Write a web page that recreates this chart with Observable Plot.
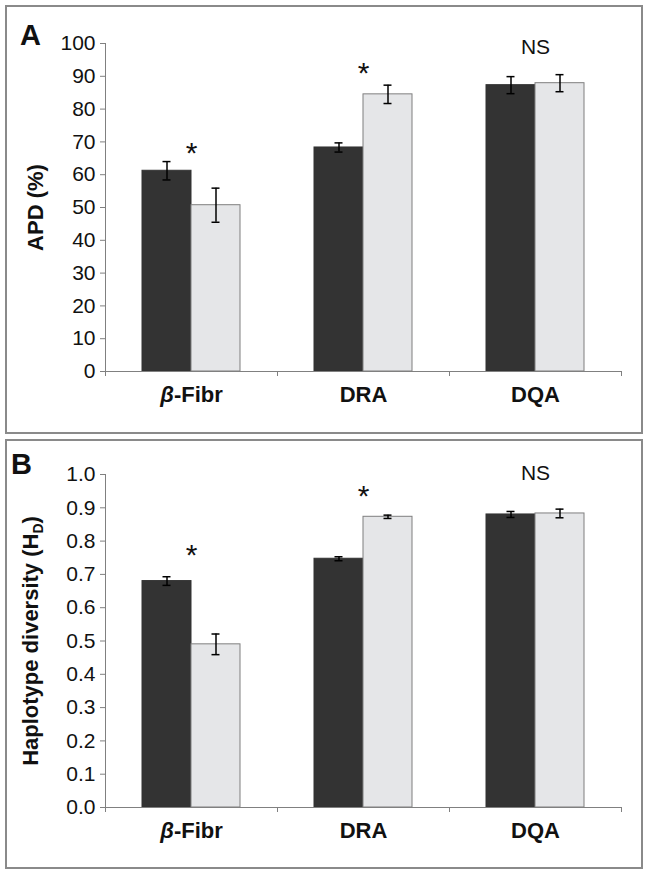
<!DOCTYPE html>
<html>
<head>
<meta charset="utf-8">
<script src="https://cdn.jsdelivr.net/npm/d3@7"></script>
<script src="https://cdn.jsdelivr.net/npm/@observablehq/plot@0.6"></script>
<style>
  html, body { margin: 0; padding: 0; background: #fff; }
  #wrap { position: relative; width: 650px; height: 875px; font-family: 'Liberation Sans', Arial, sans-serif; }
  .box { position: absolute; box-sizing: border-box; border: 2px solid #8a8a8a; background: #fff; }
  .letter { position: absolute; font-weight: bold; font-size: 29px; line-height: 1; color: #111; font-family: 'Liberation Sans', Arial, sans-serif; }
  .plot { position: absolute; left: 0; }
</style>
</head>
<body>
<div id="wrap">
  <div class="box" style="left:5px; top:5px; width:638px; height:429px;"></div>
  <div class="box" style="left:5px; top:439px; width:638px; height:430px;"></div>
  <div class="plot" id="pa" style="top:0px;"></div>
  <div class="plot" id="pb" style="top:440px;"></div>
  <div class="letter" style="left:20px; top:21px;">A</div>
  <div class="letter" style="left:11px; top:450px;">B</div>
</div>
<script>
// ---------- data ----------
const categories = ["β-Fibr", "DRA", "DQA"];

// Panel A: APD (%)
const apdMeanDark  = [61.2, 68.3, 87.3];
const apdErrDark   = [2.8, 1.4, 2.6];
const apdMeanLight = [50.7, 84.5, 87.9];
const apdErrLight  = [5.2, 2.8, 2.6];
const apdTicks     = [0, 10, 20, 30, 40, 50, 60, 70, 80, 90, 100];
const apdNotes     = ["*", "*", "NS"];
const apdNoteY     = [68, 92.3, 98.8];
const apdLabel     = "APD (%)";

// Panel B: Haplotype diversity
const hdMeanDark  = [0.680, 0.747, 0.880];
const hdErrDark   = [0.013, 0.006, 0.009];
const hdMeanLight = [0.490, 0.873, 0.883];
const hdErrLight  = [0.031, 0.005, 0.013];
const hdTicks     = [0, 0.1, 0.2, 0.3, 0.4, 0.5, 0.6, 0.7, 0.8, 0.9, 1.0];
const hdNotes     = ["*", "*", "NS"];
const hdNoteY     = [0.773, 0.95, 1.003];
const hdLabel     = "Haplotype diversity (HD)";

// ---------- drawing ----------
const W = 650, ML = 105, MR = 29;
const bw = (W - ML - MR) / categories.length;   // band width
const barW = 49, outer = (bw - 2 * barW) / 2;
const capW = 8;
const axisGray = "#808080";

function rowsOf(mean, err) {
  return categories.map((c, i) => ({cat: c, mean: mean[i], lo: mean[i] - err[i], hi: mean[i] + err[i]}));
}

function panel(o) {
  const dark = rowsOf(o.meanDark, o.errDark);
  const light = rowsOf(o.meanLight, o.errLight);
  const notes = categories.map((c, i) => ({cat: c, text: o.notes[i], y: o.noteY[i]}));
  const cDark = outer + barW / 2, cLight = outer + barW * 1.5;
  const yMax = o.ticks[o.ticks.length - 1];
  return Plot.plot({
    width: W,
    height: o.height,
    marginLeft: ML,
    marginRight: MR,
    marginTop: o.marginTop,
    marginBottom: o.marginBottom,
    style: {fontFamily: "'Liberation Sans', Arial, sans-serif", background: "transparent", color: "#111", overflow: "visible"},
    x: {domain: categories, padding: 0, label: null},
    y: {domain: [0, yMax], label: null},
    marks: [
      Plot.barY(dark, {x: "cat", y: "mean", fill: "#333333", stroke: "#333333", strokeWidth: 1,
        insetLeft: outer, insetRight: bw - outer - barW}),
      Plot.barY(light, {x: "cat", y: "mean", fill: "#e5e6e8", stroke: "#7f7f7f", strokeWidth: 1,
        insetLeft: outer + barW, insetRight: outer}),
      Plot.ruleX(dark, {x: "cat", y1: "lo", y2: "hi", dx: cDark - bw / 2, stroke: "#000", strokeWidth: 1.5}),
      Plot.ruleX(light, {x: "cat", y1: "lo", y2: "hi", dx: cLight - bw / 2, stroke: "#000", strokeWidth: 1.5}),
      ...["lo", "hi"].flatMap(k => [
        Plot.tickY(dark, {x: "cat", y: k, stroke: "#000", strokeWidth: 1.5,
          insetLeft: cDark - capW / 2, insetRight: bw - cDark - capW / 2}),
        Plot.tickY(light, {x: "cat", y: k, stroke: "#000", strokeWidth: 1.5,
          insetLeft: cLight - capW / 2, insetRight: bw - cLight - capW / 2})
      ]),
      Plot.ruleY([0], {stroke: axisGray, strokeWidth: 1}),
      Plot.ruleX([categories[0]], {x: d => d, y1: 0, y2: yMax, dx: -bw / 2, stroke: axisGray, strokeWidth: 1}),
      Plot.axisY({ticks: o.ticks, tickFormat: o.tickFormat, tickSize: 5, tickPadding: 5,
        fontSize: 21, stroke: axisGray, fill: "#111", label: null}),
      Plot.axisX({ticks: categories, tickSize: 5, tickFormat: () => "", dx: -bw / 2, stroke: axisGray, label: null}),
      Plot.axisX({ticks: [categories[categories.length - 1]], tickSize: 5, tickFormat: () => "", dx: bw / 2, stroke: axisGray, label: null}),
      Plot.axisX({tickSize: 0, tickPadding: 15, fontSize: 22, fontWeight: "bold", fill: "#111", label: null}),
      Plot.text(notes.filter(d => d.text === "*"), {x: "cat", y: "y", text: "text", fontSize: 30, dy: 5, fill: "#111"}),
      Plot.text(notes.filter(d => d.text !== "*"), {x: "cat", y: "y", text: "text", fontSize: 21, fill: "#111"}),
      Plot.text([o.label], {text: d => d, frameAnchor: "left", textAnchor: "middle", rotate: -90, dx: o.labelDx,
        fontSize: 22, fontWeight: "bold", fill: "#111"})
    ]
  });
}

const svgA = panel({
  meanDark: apdMeanDark, errDark: apdErrDark, meanLight: apdMeanLight, errLight: apdErrLight,
  ticks: apdTicks, tickFormat: d3.format("d"), notes: apdNotes, noteY: apdNoteY, label: apdLabel,
  height: 433, marginTop: 43, marginBottom: 62, labelDx: -70
});
const svgB = panel({
  meanDark: hdMeanDark, errDark: hdErrDark, meanLight: hdMeanLight, errLight: hdErrLight,
  ticks: hdTicks, tickFormat: d3.format(".1f"), notes: hdNotes, noteY: hdNoteY, label: hdLabel,
  height: 428, marginTop: 34, marginBottom: 61, labelDx: -75
});
document.getElementById("pa").appendChild(svgA);
document.getElementById("pb").appendChild(svgB);

// italic beta in the category labels, subscript D in the y label
const NS = "http://www.w3.org/2000/svg";
for (const svg of [svgA, svgB]) {
  svg.querySelectorAll("text").forEach(t => {
    if (t.textContent === "β-Fibr") {
      t.textContent = "";
      const b = document.createElementNS(NS, "tspan");
      b.setAttribute("font-style", "italic");
      b.textContent = "β";
      t.appendChild(b);
      t.appendChild(document.createTextNode("-Fibr"));
    } else if (t.textContent === hdLabel) {
      t.textContent = "";
      t.appendChild(document.createTextNode("Haplotype diversity (H"));
      const s = document.createElementNS(NS, "tspan");
      s.setAttribute("font-size", "14");
      s.setAttribute("dy", "5");
      s.textContent = "D";
      t.appendChild(s);
      const c = document.createElementNS(NS, "tspan");
      c.setAttribute("dy", "-5");
      c.textContent = ")";
      t.appendChild(c);
    }
  });
}
</script>
</body>
</html>
